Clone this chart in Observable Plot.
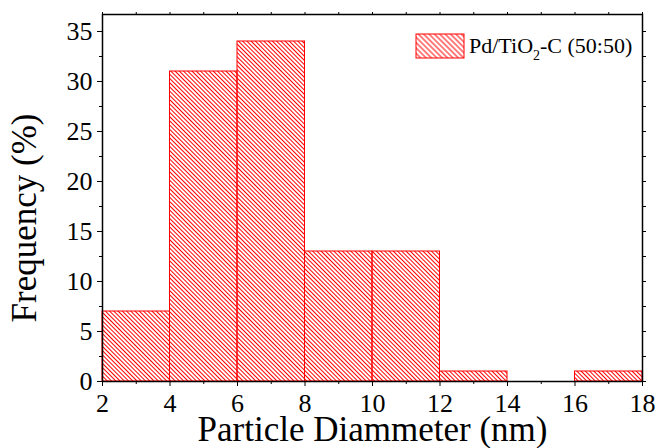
<!DOCTYPE html>
<html>
<head>
<meta charset="utf-8">
<script src="https://cdn.jsdelivr.net/npm/d3@7"></script>
<script src="https://cdn.jsdelivr.net/npm/@observablehq/plot@0.6"></script>
<style>
  body { margin: 0; background: #fff; }
  #chart { width: 659px; height: 448px; }
</style>
</head>
<body>
<div id="chart"></div>
<script>
// Particle size distribution (histogram bins in nm, frequency in %)
const binStart = [2, 4, 6, 8, 10, 12, 14, 16];
const binEnd = [4, 6, 8, 10, 12, 14, 16, 18];
const frequency = [7, 31, 34, 13, 13, 1, 0, 1];

const seriesName = "Pd/TiO";
const seriesSub = "2";
const seriesRest = "-C (50:50)";
const xLabel = "Particle Diammeter (nm)";
const yLabel = "Frequency (%)";

// Tick positions
const xMajorTicks = [2, 4, 6, 8, 10, 12, 14, 16, 18];
const xMinorTicks = [3, 5, 7, 9, 11, 13, 15, 17];
const xTopTicks = [2, 3, 4, 5, 6, 7, 8, 9, 10, 11, 12, 13, 14, 15, 16, 17, 18];
const yMajorTicks = [0, 5, 10, 15, 20, 25, 30, 35];
const yMinorTicks = [2.5, 7.5, 12.5, 17.5, 22.5, 27.5, 32.5];
const yRightTicks = [0, 2.5, 5, 7.5, 10, 12.5, 15, 17.5, 20, 22.5, 25, 27.5, 30, 32.5, 35];

const serif = "'Liberation Serif', 'Times New Roman', serif";

const bins = binStart.map((s, i) => ({start: s, end: binEnd[i], freq: frequency[i]}));

const chart = Plot.plot({
  width: 659,
  height: 448,
  marginLeft: 102,
  marginRight: 17,
  marginTop: 14,
  marginBottom: 67,
  x: {domain: [2, 18], label: null},
  y: {domain: [0, 36.7], label: null},
  style: {background: "#fff", color: "#000", overflow: "visible"},
  marks: [
    Plot.rectY(bins, {
      filter: d => d.freq > 0,
      x1: "start", x2: "end", y1: 0, y2: "freq",
      fill: "url(#hatch)", stroke: "#ff0000", strokeWidth: 1
    }),
    Plot.axisX(xMajorTicks, {anchor: "bottom", tickSize: 5, tickPadding: 7, fontSize: 26, fontFamily: serif, label: null}),
    Plot.axisX(xMinorTicks, {anchor: "bottom", tickSize: 3, fill: "none", label: null}),
    Plot.axisX(xTopTicks, {anchor: "top", tickSize: 3, fill: "none", label: null}),
    Plot.axisY(yMajorTicks, {anchor: "left", tickSize: 5, tickPadding: 5, fontSize: 26, fontFamily: serif, label: null}),
    Plot.axisY(yMinorTicks, {anchor: "left", tickSize: 3, fill: "none", label: null}),
    Plot.axisY(yRightTicks, {anchor: "right", tickSize: 3, fill: "none", label: null}),
    Plot.frame({stroke: "#000", strokeWidth: 1.5}),
    Plot.text([xLabel], {
      frameAnchor: "bottom", dy: 59, lineAnchor: "bottom",
      fontSize: 35, fontFamily: serif, fill: "#000"
    }),
    Plot.text([yLabel], {
      frameAnchor: "left", dx: -67, dy: 20, rotate: -90,
      textAnchor: "middle", lineAnchor: "bottom",
      fontSize: 35, fontFamily: serif, fill: "#000"
    })
  ]
});

const svg = d3.select(chart).attr("font-family", serif);

// Hatch fills for the bars and the legend swatch
const defs = svg.insert("defs", ":first-child");
function hatch(id, gap) {
  const p = defs.append("pattern")
    .attr("id", id)
    .attr("patternUnits", "userSpaceOnUse")
    .attr("width", gap)
    .attr("height", gap)
    .attr("patternTransform", "rotate(-45)");
  p.append("line")
    .attr("x1", gap / 2).attr("y1", 0)
    .attr("x2", gap / 2).attr("y2", gap)
    .attr("stroke", "#ff0000")
    .attr("stroke-width", 1);
}
hatch("hatch", 3);
hatch("hatchKey", 3.8);

// Legend
const key = svg.append("g")
  .attr("font-family", serif)
  .attr("text-anchor", "start");
key.append("rect")
  .attr("x", 416).attr("y", 34).attr("width", 48).attr("height", 24)
  .attr("fill", "url(#hatchKey)").attr("stroke", "#ff0000").attr("stroke-width", 1);
const label = key.append("text").attr("x", 469).attr("y", 53).attr("font-size", 22).attr("fill", "#000");
label.append("tspan").text(seriesName);
label.append("tspan").attr("dy", 7).attr("font-size", 14).text(seriesSub);
label.append("tspan").attr("dy", -7).text(seriesRest);

document.getElementById("chart").appendChild(chart);
</script>
</body>
</html>
